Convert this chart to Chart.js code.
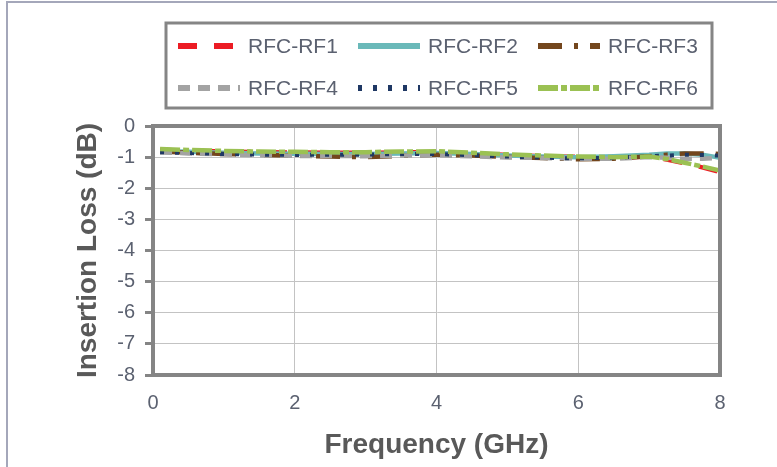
<!DOCTYPE html>
<html>
<head>
<meta charset="utf-8">
<script src="https://cdn.jsdelivr.net/npm/chart.js@4/dist/chart.umd.min.js"></script>
<style>
  body { margin: 0; background: #fff; }
  canvas { display: block; }
</style>
</head>
<body>
<canvas id="lossChart" width="777" height="467"></canvas>
<script>
// Frequency points (GHz)
var freqs = [0.1, 0.5, 1, 1.5, 2, 2.5, 3, 3.5, 4, 4.5, 5, 5.5, 6, 6.5, 7, 7.25, 7.5, 7.75, 8];

// Insertion loss per path (dB)
var rf1 = [-0.76, -0.80, -0.82, -0.84, -0.85, -0.86, -0.86, -0.85, -0.84, -0.88, -0.93, -0.97, -0.99, -1.02, -0.98, -1.08, -1.20, -1.33, -1.48];
var rf2 = [-0.80, -0.83, -0.86, -0.88, -0.89, -0.90, -0.90, -0.88, -0.87, -0.90, -0.95, -0.98, -1.00, -0.97, -0.92, -0.88, -0.88, -0.92, -1.02];
var rf3 = [-0.82, -0.86, -0.90, -0.93, -0.95, -0.98, -1.00, -0.96, -0.92, -0.95, -0.99, -1.03, -1.07, -1.05, -0.97, -0.92, -0.88, -0.88, -0.90];
var rf4 = [-0.85, -0.88, -0.91, -0.94, -0.96, -0.96, -0.97, -0.95, -0.94, -0.97, -1.01, -1.03, -1.05, -1.05, -1.00, -1.02, -1.05, -1.05, -1.02];
var rf5 = [-0.84, -0.87, -0.90, -0.92, -0.93, -0.92, -0.92, -0.90, -0.90, -0.94, -0.98, -1.02, -1.04, -1.02, -0.97, -0.95, -0.92, -0.93, -0.95];
var rf6 = [-0.74, -0.77, -0.80, -0.82, -0.83, -0.84, -0.84, -0.82, -0.81, -0.86, -0.91, -0.95, -0.98, -1.00, -0.98, -1.06, -1.18, -1.30, -1.43];

var seriesNames = ['RFC-RF1', 'RFC-RF2', 'RFC-RF3', 'RFC-RF4', 'RFC-RF5', 'RFC-RF6'];
var seriesData = [rf1, rf2, rf3, rf4, rf5, rf6];

// Axis ticks
var xTicks = [0, 2, 4, 6, 8];
var yTicks = [0, -1, -2, -3, -4, -5, -6, -7, -8];

var colors = ['#ec1c24', '#6ab9b9', '#73461d', '#a3a3a3', '#1f3864', '#9bc153'];
var dashes = [[19, 17], [], [24, 12, 4, 12], [12, 8], [4, 11], [20, 3, 6, 3]];

var fontFamily = "'Liberation Sans', Arial, sans-serif";
var textColor = '#5b6170';

function toPoints(values) {
    return values.map(function(v, i) { return { x: freqs[i], y: v }; });
}

var datasets = seriesData.map(function(values, i) {
    return {
        label: seriesNames[i],
        data: toPoints(values),
        borderColor: colors[i],
        backgroundColor: colors[i],
        borderDash: dashes[i],
        borderWidth: i === 4 ? 4 : 4.5,
        pointRadius: 0,
        tension: 0,
        fill: false,
        order: 6 - i  // RF6 ends up on top
    };
});

// Outer picture frame + plot frame + boxed legend
var framePlugin = {
    id: 'frames',
    beforeDraw: function(chart) {
        var ctx = chart.ctx;
        ctx.save();
        ctx.strokeStyle = '#a4a7ba';
        ctx.lineWidth = 2;
        ctx.beginPath();
        ctx.moveTo(7, chart.height);
        ctx.lineTo(7, 2);
        ctx.lineTo(chart.width, 2);
        ctx.stroke();
        ctx.restore();
    },
    afterDraw: function(chart) {
        var ctx = chart.ctx;
        var a = chart.chartArea;
        ctx.save();
        ctx.strokeStyle = '#858585';
        ctx.lineWidth = 4;
        ctx.strokeRect(a.left, a.top, a.right - a.left, a.bottom - a.top);

        // legend box
        ctx.lineWidth = 3;
        ctx.strokeStyle = '#858585';
        ctx.strokeRect(166, 23, 546, 85);

        var colX = [178, 358, 538];
        var rowY = [46, 88];
        ctx.font = '21px ' + fontFamily;
        ctx.textBaseline = 'middle';
        ctx.fillStyle = textColor;
        chart.data.datasets.forEach(function(ds, i) {
            var x = colX[i % 3];
            var y = rowY[Math.floor(i / 3)];
            ctx.beginPath();
            ctx.setLineDash(ds.borderDash);
            ctx.strokeStyle = ds.borderColor;
            ctx.lineWidth = 6;
            ctx.moveTo(x, y);
            ctx.lineTo(x + 62, y);
            ctx.stroke();
            ctx.setLineDash([]);
            ctx.fillText(ds.label, x + 70, y + 1);
        });
        ctx.restore();
    }
};

var ctx = document.getElementById('lossChart').getContext('2d');
var lossChart = new Chart(ctx, {
    type: 'line',
    data: { datasets: datasets },
    options: {
        responsive: false,
        animation: false,
        devicePixelRatio: 1,
        layout: {
            padding: { left: 0, top: 126, right: 57, bottom: 0 }
        },
        plugins: {
            legend: { display: false },
            tooltip: { enabled: false }
        },
        scales: {
            x: {
                type: 'linear',
                min: 0,
                max: 8,
                afterBuildTicks: function(scale) {
                    scale.ticks = xTicks.map(function(v) { return { value: v }; });
                },
                afterFit: function(scale) { scale.height = 92; },
                grid: {
                    color: '#c3c3c3',
                    lineWidth: 1,
                    drawTicks: false
                },
                border: { color: '#858585', width: 4 },
                ticks: {
                    padding: 16,
                    color: textColor,
                    font: { family: fontFamily, size: 20 }
                },
                title: {
                    display: true,
                    text: 'Frequency (GHz)',
                    color: '#595959',
                    font: { family: fontFamily, size: 28, weight: 'bold' },
                    padding: { top: 0, bottom: 5 }
                }
            },
            y: {
                min: -8,
                max: 0,
                afterBuildTicks: function(scale) {
                    scale.ticks = yTicks.map(function(v) { return { value: v }; });
                },
                afterFit: function(scale) { scale.width = 153; },
                grid: {
                    color: '#c3c3c3',
                    lineWidth: 1,
                    tickColor: '#858585',
                    tickWidth: 3,
                    tickLength: 8
                },
                border: { color: '#858585', width: 4 },
                ticks: {
                    padding: 10,
                    color: textColor,
                    font: { family: fontFamily, size: 20 }
                },
                title: {
                    display: true,
                    text: 'Insertion Loss (dB)',
                    color: '#595959',
                    font: { family: fontFamily, size: 28, weight: 'bold' },
                    padding: { top: 71, bottom: 0 }
                }
            }
        }
    },
    plugins: [framePlugin]
});
</script>
</body>
</html>
